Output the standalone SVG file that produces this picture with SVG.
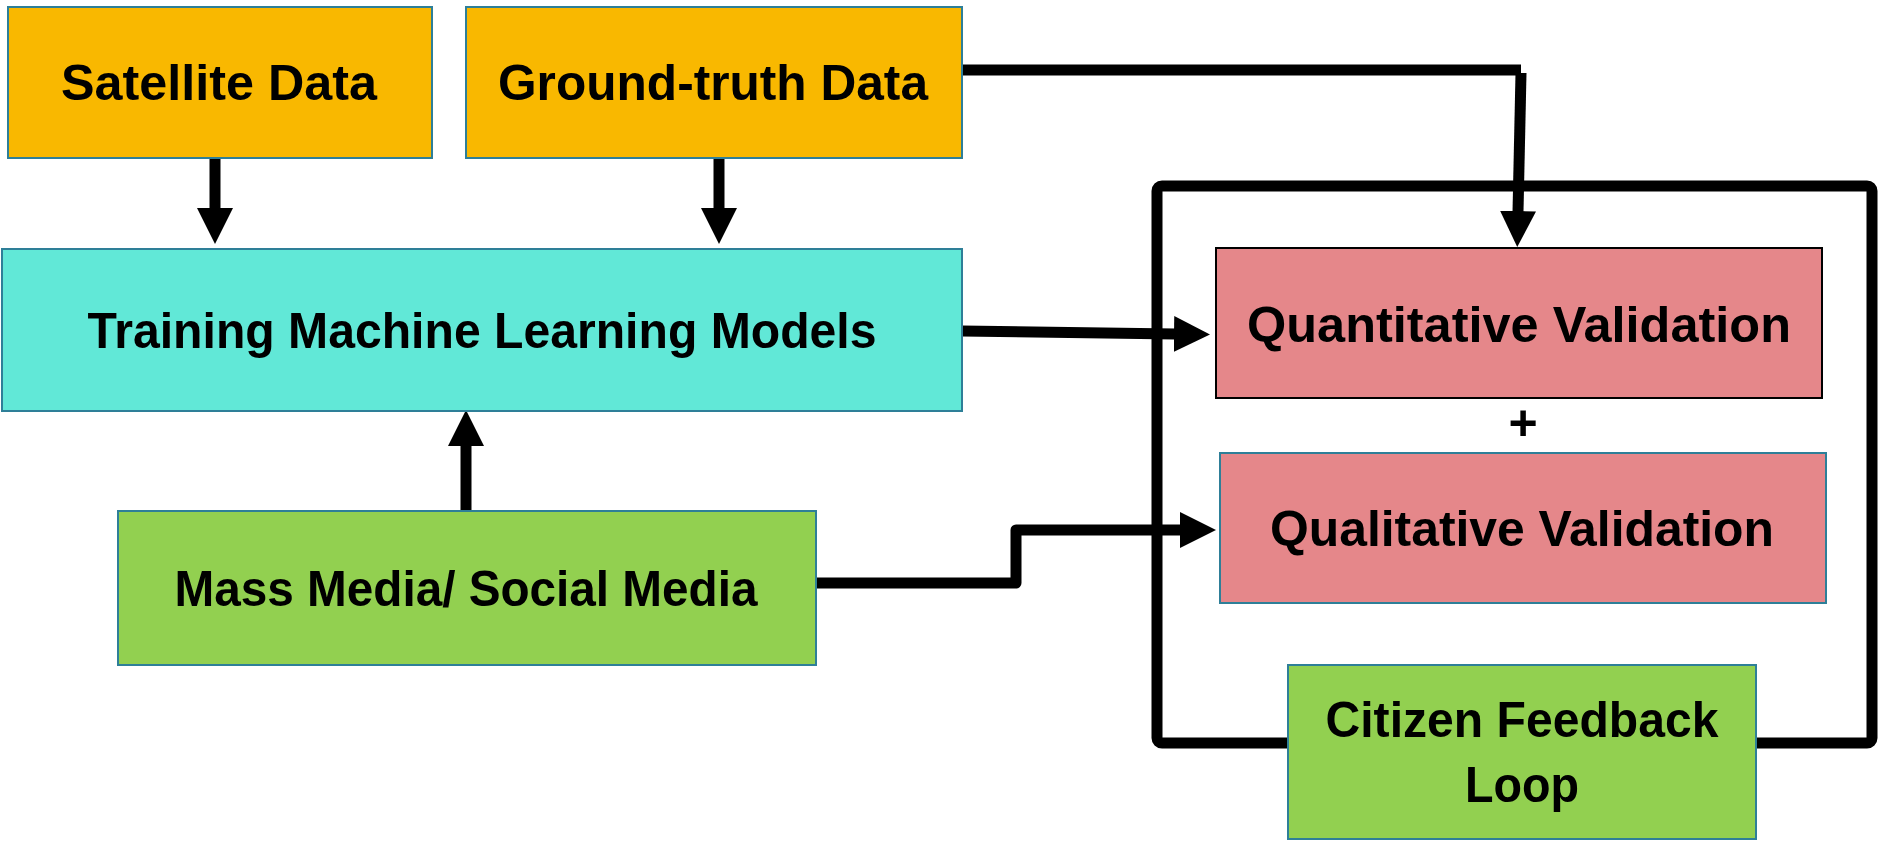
<svg xmlns="http://www.w3.org/2000/svg" width="1882" height="844" viewBox="0 0 1882 844">
  <defs>
    <!-- arrowhead: its base sits on the end of the line, tip 36px beyond -->
    <marker id="head" markerUnits="userSpaceOnUse" markerWidth="38" markerHeight="38" refX="1" refY="18" orient="auto" viewBox="0 0 38 38">
      <path d="M0,0 L36,18 L0,36 Z" fill="#000"/>
    </marker>
    <style>
      .box { stroke: #2E7F98; stroke-width: 2; }
      .orange { fill: #F9B800; }
      .cyan { fill: #61E8D7; }
      .green { fill: #92D050; }
      .pink { fill: #E5878A; }
      .lbl { font-family: "Liberation Sans", Arial, sans-serif; font-weight: bold; font-size: 50px; fill: #000; text-anchor: middle; }
      .wire { fill: none; stroke: #000; stroke-width: 11; }
      .arrow { marker-end: url(#head); }
    </style>
  </defs>

  <!-- connectors -->
  <g id="connectors">
    <line class="wire arrow" x1="215" y1="158" x2="215" y2="209"/>
    <line class="wire arrow" x1="719" y1="158" x2="719" y2="209"/>
    <line class="wire arrow" x1="466" y1="511" x2="466" y2="445"/>
    <line class="wire arrow" x1="962" y1="331" x2="1175" y2="334"/>
    <path class="wire" d="M962,70 H1521"/>
    <line class="wire arrow" x1="1521" y1="73" x2="1518" y2="212"/>
    <path class="wire arrow" d="M816,583 H1016 V530 H1181" stroke-linejoin="round"/>
    <rect id="feedback-loop" x="1157" y="186" width="715" height="557" rx="5" fill="none" stroke="#000" stroke-width="11"/>
  </g>

  <g id="satellite">
    <rect class="box orange" x="8" y="7" width="424" height="151"/>
    <text class="lbl" x="219" y="100" textLength="316" lengthAdjust="spacingAndGlyphs">Satellite Data</text>
  </g>

  <g id="ground-truth">
    <rect class="box orange" x="466" y="7" width="496" height="151"/>
    <text class="lbl" x="713" y="100" textLength="430" lengthAdjust="spacingAndGlyphs">Ground-truth Data</text>
  </g>

  <g id="training">
    <rect class="box cyan" x="2" y="249" width="960" height="162"/>
    <text class="lbl" x="482" y="348" textLength="789" lengthAdjust="spacingAndGlyphs">Training Machine Learning Models</text>
  </g>

  <g id="mass-media">
    <rect class="box green" x="118" y="511" width="698" height="154"/>
    <text class="lbl" x="466" y="606" textLength="583" lengthAdjust="spacingAndGlyphs">Mass Media/ Social Media</text>
  </g>

  <g id="quantitative">
    <rect class="pink" x="1216" y="248" width="606" height="150" stroke="#000" stroke-width="2"/>
    <text class="lbl" x="1519" y="342" textLength="544" lengthAdjust="spacingAndGlyphs">Quantitative Validation</text>
  </g>

  <g id="plus">
    <text class="lbl" x="1523" y="440" font-size="42">+</text>
  </g>

  <g id="qualitative">
    <rect class="box pink" x="1220" y="453" width="606" height="150"/>
    <text class="lbl" x="1522" y="546" textLength="504" lengthAdjust="spacingAndGlyphs">Qualitative Validation</text>
  </g>

  <g id="citizen-feedback">
    <rect class="box green" x="1288" y="665" width="468" height="174"/>
    <text class="lbl" x="1522" y="737" textLength="393" lengthAdjust="spacingAndGlyphs">Citizen Feedback</text>
    <text class="lbl" x="1522" y="802" textLength="114" lengthAdjust="spacingAndGlyphs">Loop</text>
  </g>
</svg>
